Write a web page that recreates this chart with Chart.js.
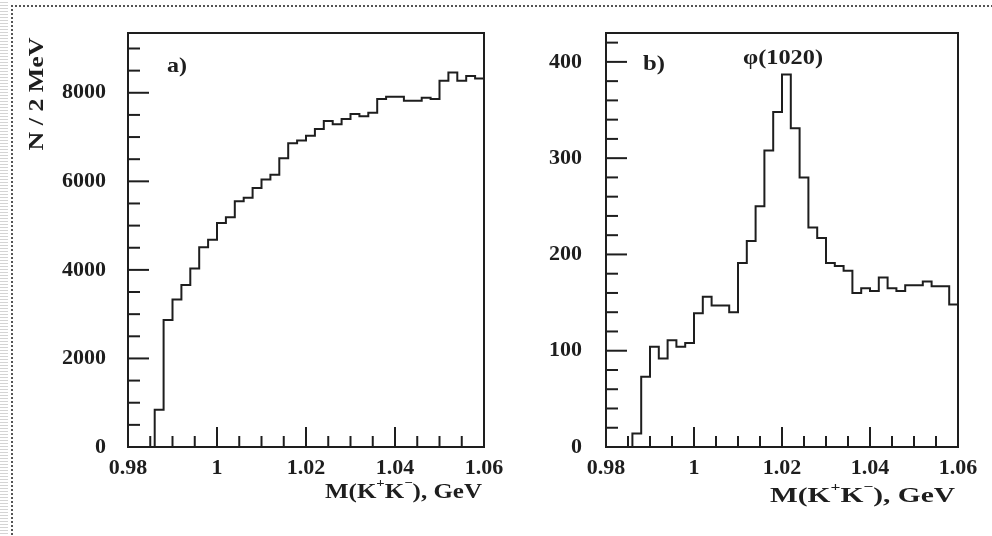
<!DOCTYPE html>
<html><head><meta charset="utf-8">
<script src="https://cdn.jsdelivr.net/npm/chart.js@4.4.1/dist/chart.umd.min.js"></script>
<style>
html,body{margin:0;padding:0;background:#fff;}
#wrap{position:relative;width:992px;height:536px;overflow:hidden;background:#fff;}
#border{position:absolute;left:11px;top:5px;width:1100px;height:700px;border-top:2px dotted #555;border-left:2px dotted #555;}
#stripes{position:absolute;left:0;top:0;width:8px;height:536px;background:repeating-linear-gradient(to bottom,#fff 0,#fff 2px,#d4d4d4 2px,#d4d4d4 3px);}
canvas{position:absolute;top:0;}
#ca{left:0;}
#cb{left:500px;}
</style></head><body>
<div id="wrap"><div id="stripes"></div><div id="border"></div>
<canvas id="ca" width="540" height="536"></canvas>
<canvas id="cb" width="492" height="536"></canvas></div>
<script>
// ---- data ----
const binEdges = [0.980,0.982,0.984,0.986,0.988,0.990,0.992,0.994,0.996,0.998,
                  1.000,1.002,1.004,1.006,1.008,1.010,1.012,1.014,1.016,1.018,
                  1.020,1.022,1.024,1.026,1.028,1.030,1.032,1.034,1.036,1.038,
                  1.040,1.042,1.044,1.046,1.048,1.050,1.052,1.054,1.056,1.058];
const lastEdge = 1.060;
const countsA = [0,0,0,840,2870,3330,3660,4030,4510,4680,
                 5060,5190,5550,5630,5850,6040,6150,6520,6860,6920,
                 7030,7180,7360,7290,7410,7520,7470,7550,7860,7910,
                 7910,7820,7820,7890,7860,8270,8460,8270,8380,8320];
const countsB = [0,0,0,14,73,104,92,111,104,108,
                 139,156,147,147,140,191,214,250,308,348,
                 387,331,280,228,217,191,188,183,160,165,
                 162,176,165,162,168,168,172,167,167,148];
const xTickLabels = ['0.98','1','1.02','1.04','1.06'];
const yTickLabelsA = ['0','2000','4000','6000','8000'];
const yTickLabelsB = ['0','100','200','300','400'];
const yTitle = 'N / 2 MeV';
const xTitleParts = [{t:'M(K'},{t:'+',sup:true},{t:'K'},{t:'\u2212',sup:true},{t:'), GeV'}];
const panelA = 'a)';
const panelB = 'b)';
const peakLabel = '\u03c6(1020)';

const INK = '#1e1e1e';
const SERIF = '"Liberation Serif","DejaVu Serif","Times New Roman",serif';

function isMult(v, step){ const r = v/step; return Math.abs(r-Math.round(r)) < 1e-6; }

function drawFit(ctx, text, cx, cy, targetW, size, weight){
  ctx.save();
  ctx.font = weight + ' ' + size + 'px ' + SERIF;
  const w = ctx.measureText(text).width;
  ctx.translate(cx, cy);
  ctx.scale(targetW / w, 1);
  ctx.textAlign = 'center'; ctx.textBaseline = 'middle';
  ctx.fillStyle = INK;
  ctx.fillText(text, 0, 0);
  ctx.restore();
}
function drawRich(ctx, parts, rightX, cy, targetW, size){
  ctx.save();
  const fN = 'bold ' + size + 'px ' + SERIF;
  const fS = 'bold ' + Math.round(size*0.6) + 'px ' + SERIF;
  let total = 0;
  parts.forEach(p => { ctx.font = p.sup ? fS : fN; p.w = ctx.measureText(p.t).width; total += p.w; });
  const sx = targetW / total;
  ctx.translate(rightX - targetW, cy);
  ctx.scale(sx, 1);
  ctx.textAlign = 'left'; ctx.textBaseline = 'middle'; ctx.fillStyle = INK;
  let x = 0;
  parts.forEach(p => {
    ctx.font = p.sup ? fS : fN;
    ctx.fillText(p.t, x, p.sup ? -size*0.38 : 0);
    x += p.w;
  });
  ctx.restore();
}

const decor = {
  id: 'decor',
  afterDatasetsDraw(chart, args, o){
    const {ctx, chartArea:a, scales:{x, y}} = chart;
    ctx.save();
    ctx.strokeStyle = INK; ctx.lineWidth = 2; ctx.lineCap = 'butt';
    x.ticks.forEach(t => {
      const v = t.value;
      if (v <= x.min + 1e-9 || v >= x.max - 1e-9) return;
      const major = isMult(v, o.xMajor);
      const px = x.getPixelForValue(v);
      ctx.beginPath(); ctx.moveTo(px, a.bottom); ctx.lineTo(px, a.bottom - (major ? 20 : 11)); ctx.stroke();
    });
    y.ticks.forEach(t => {
      const v = t.value;
      if (v <= y.min + 1e-9 || v >= y.max - 1e-9) return;
      const major = isMult(v, o.yMajor);
      const py = y.getPixelForValue(v);
      ctx.beginPath(); ctx.moveTo(a.left, py); ctx.lineTo(a.left + (major ? 21 : 12), py); ctx.stroke();
    });
    ctx.strokeRect(a.left, a.top, a.right - a.left, a.bottom - a.top);
    ctx.restore();
    o.texts.forEach(tx => drawFit(ctx, tx.t, tx.x, tx.y, tx.w, tx.s, 'bold'));
    if (o.yTitle) {
      ctx.save();
      ctx.translate(o.yTitle.x, o.yTitle.y);
      ctx.rotate(-Math.PI/2);
      drawFit(ctx, yTitle, 0, 0, o.yTitle.w, o.yTitle.s, 'bold');
      ctx.restore();
    }
    drawRich(ctx, xTitleParts, o.xTitle.r, o.xTitle.y, o.xTitle.w, o.xTitle.s);
  }
};

function stepTicks(min, max, step){
  const t = [];
  for (let k = 0; min + k*step <= max + step*1e-6; k++) t.push({value: Math.round((min + k*step)*1e6)/1e6});
  return t;
}

function makeChart(id, counts, yMax, yStep, yLabels, yMajor, yAxisW, padRight, opts){
  const pts = binEdges.map((e, i) => ({x: e, y: counts[i]}));
  pts.push({x: lastEdge, y: counts[counts.length - 1]});
  const font = {family: SERIF, weight: 'bold', size: 22};
  return new Chart(document.getElementById(id), {
    type: 'line',
    data: {datasets: [{data: pts, stepped: 'before', borderColor: INK, borderWidth: 2,
                       pointRadius: 0, fill: false, tension: 0}]},
    options: {
      responsive: false, animation: false, devicePixelRatio: 1,
      layout: {padding: {left: 0, top: 33, right: padRight, bottom: 0}},
      plugins: {legend: {display: false}, tooltip: {enabled: false}, decor: opts},
      scales: {
        x: {type: 'linear', min: 0.98, max: 1.06,
            grid: {display: false, drawTicks: false}, border: {display: false},
            afterBuildTicks: s => { s.ticks = stepTicks(0.98, 1.06, 0.005); },
            ticks: {autoSkip: false, maxRotation: 0, minRotation: 0,
                    padding: 8, color: INK, font,
                    callback: v => { const s = String(+(+v).toFixed(3)); return xTickLabels.includes(s) ? s : ''; }},
            afterFit: s => { s.height = 89; s.paddingLeft = 0; s.paddingRight = 0; }},
        y: {type: 'linear', min: 0, max: yMax,
            grid: {display: false, drawTicks: false}, border: {display: false},
            afterBuildTicks: s => { s.ticks = stepTicks(0, yMax, yStep); },
            ticks: {autoSkip: false, padding: opts.yPad, color: INK, font,
                    callback: v => { const s = String(Math.round(v)); return (isMult(v, yMajor) && yLabels.includes(s)) ? s : ''; }},
            afterFit: s => { s.width = yAxisW; s.paddingTop = 0; s.paddingBottom = 0; }}
      }
    },
    plugins: [decor]
  });
}

makeChart('ca', countsA, 9350, 500, yTickLabelsA, 2000, 128, 540 - 484, {
  xMajor: 0.02, yMajor: 2000, yPad: 22,
  texts: [{t: panelA, x: 177, y: 67, w: 20, s: 21}],
  yTitle: {x: 37, y: 94, w: 113, s: 22},
  xTitle: {r: 482, y: 492, w: 157, s: 22}
});
makeChart('cb', countsB, 430, 20, yTickLabelsB, 100, 106, 492 - 458, {
  xMajor: 0.02, yMajor: 100, yPad: 24,
  texts: [{t: panelB, x: 154, y: 64, w: 22, s: 22}, {t: peakLabel, x: 283, y: 58, w: 80, s: 22}],
  yTitle: null,
  xTitle: {r: 455, y: 496, w: 185, s: 22}
});
</script>
</body></html>
